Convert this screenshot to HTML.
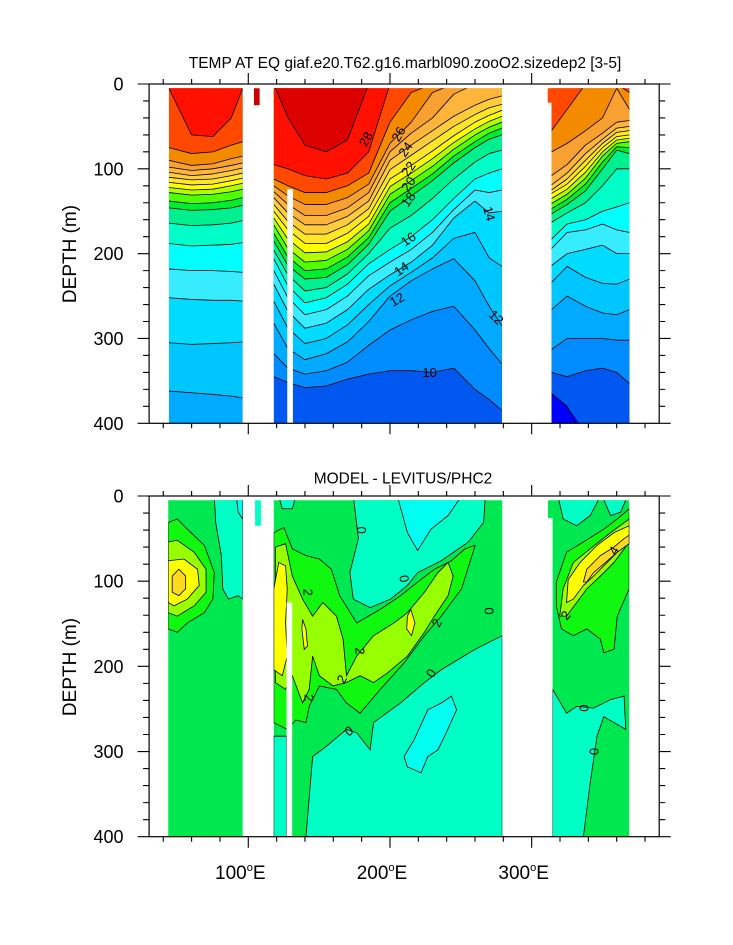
<!DOCTYPE html>
<html><head><meta charset="utf-8"><style>
html,body{margin:0;padding:0;background:#fff;}
svg{display:block;font-family:"Liberation Sans",Arial,sans-serif;}
</style></head><body>
<svg id="chart" width="733" height="945" viewBox="0 0 733 945" xmlns="http://www.w3.org/2000/svg">
<text x="405" y="68" font-size="15.5" text-anchor="middle">TEMP AT EQ giaf.e20.T62.g16.marbl090.zooO2.sizedep2 [3-5]</text>
<text x="403" y="483.5" font-size="15.5" text-anchor="middle">MODEL - LEVITUS/PHC2</text>
<text transform="translate(76,254) rotate(-90)" font-size="19" text-anchor="middle">DEPTH (m)</text>
<text transform="translate(76,667) rotate(-90)" font-size="19" text-anchor="middle">DEPTH (m)</text>
<g id="top"></g>
<g id="bot"></g>
</svg>
<script>
// ---------- data ----------
const levels = [29,28,27,26,25,24,23,22,21,20,19,18,17,16,15,14,13,12,11,10,9];
const levelColors = ["#dd0000","#ff1000","#ff4800","#f38a00","#f8a030","#ffb43c","#ffcc3c","#ffe628","#ffff00","#b0ff00","#50ff00","#00ee30","#00f090","#00ffc8","#00ffff","#38ecff","#00dcff","#00c6ff","#00aaff","#008cff","#0058f0"];
const coldColor = "#0000ff";
const leftLons = [44,60,75,88,96];
const leftDepths = [
 [0,5,75,90,98,104,110,116,122,128,138,146,164,188,218,252,305,362,420,420,420],
 [0,60,82,96,102,108,113,119,125,131,141,149,167,191,220,254,307,364,420,420,420],
 [0,62,80,94,100,106,112,118,124,130,140,148,166,190,220,255,306,366,420,420,420],
 [0,40,72,88,96,102,108,114,120,127,137,146,164,189,221,255,305,368,420,420,420],
 [0,5,68,85,93,99,105,111,117,124,134,143,161,187,222,256,304,370,420,420,420]];
const midLons = [118,128,140,155,170,185,200,215,230,245,260,270,279];
const midDepths = [
 [0,95,112,120,127,134,142,150,158,166,176,185,196,206,220,236,256,282,318,345,420],
 [40,100,120,132,142,152,162,172,183,194,204,214,225,238,252,268,288,312,335,352,420],
 [72,108,128,142,155,166,177,188,199,210,220,230,244,258,272,288,306,325,342,358,420],
 [80,112,128,142,155,166,177,188,198,208,218,228,240,252,266,282,300,318,338,356,420],
 [66,105,120,134,146,156,166,176,186,195,204,213,224,236,250,266,284,304,328,348,420],
 [0,80,105,118,128,138,147,156,165,173,181,189,200,212,226,242,260,280,308,342,420],
 [0,0,45,70,80,90,101,112,121,130,140,150,170,195,210,225,238,250,290,338,420],
 [0,0,10,45,58,72,84,96,105,114,123,132,155,180,195,210,222,232,278,338,420],
 [0,0,0,10,40,55,67,79,88,97,106,114,135,160,175,190,205,218,268,340,420],
 [0,0,0,0,12,38,50,61,69,77,85,93,112,135,148,158,182,206,262,335,420],
 [0,0,0,0,0,25,36,45,53,60,68,75,92,112,125,138,175,232,290,360,420],
 [0,0,0,0,0,18,28,37,44,51,58,65,82,105,128,152,205,262,312,372,420],
 [0,0,0,0,0,14,24,31,38,45,52,60,78,100,125,150,215,285,330,385,420]];
const rightLons = [314,325,338,350,360,369];
const rightDepths = [
 [0,0,55,80,108,119,125,129,135,141,147,153,163,183,194,214,234,266,313,340,365],
 [0,0,30,70,95,105,112,118,124,130,136,142,152,165,175,200,215,250,300,345,380],
 [0,0,0,55,72,82,90,97,104,111,118,126,140,160,172,195,228,262,300,338,420],
 [0,0,0,40,58,65,70,75,80,85,92,100,120,150,165,190,235,270,300,335,420],
 [0,0,0,5,45,52,57,62,66,70,74,78,100,145,172,200,236,272,302,340,420],
 [0,0,10,30,43,50,55,60,64,68,75,82,100,140,175,200,230,266,302,353,420]];
const topLabels = [["28",183,65,-60],["26",206,59,-60],["24",211,77,-55],["22",213,100,-55],["20",213,118,-55],["18",213,136,-55],["16",213,183,-35],["14",208,218,-35],["12",205,254,-30],["10",228,340,0],["14",270,153,75],["12",275,275,45]];
// bottom panel: difference regions (value class, [lon, depth] vertices)
const diffColors = {"-2":"#00fff0","-1":"#00ffc4","1":"#10f810","2":"#98ff00","3":"#ffff00","4":"#ffd820"};
const diffBase = "#00e850";
const diffRegions = [
 ["-1",[[76,0],[77,31],[81,70],[82,109],[86,121],[93,117],[96,121],[96,0]]],
 ["-2",[[91.5,0],[92.9,19],[96,27],[96,0]]],
 ["1",[[43.5,31],[49.9,27],[57,39],[69,58],[76,90],[75,121],[69,137],[57,149],[49.9,160],[43.5,156]]],
 ["2",[[43.5,54],[49.9,52],[61.8,66],[70.2,86],[70.2,113],[61.8,129],[49.9,141],[43.5,137]]],
 ["3",[[43.5,76],[54.6,74],[64.2,86],[65.4,105],[57,121],[47.5,129],[43.5,125]]],
 ["4",[[46.3,94],[51,86],[55.8,94],[55.8,109],[51,117],[46.3,113]]],
 ["-1",[[174.1,0],[177.7,50],[171.7,90],[174.1,121],[186,131],[200.4,121],[212.3,105],[219.5,90],[236.2,76],[255.3,54],[266.1,31],[267.3,0]]],
 ["-2",[[205.2,0],[212.3,43],[219.5,64],[229,39],[241,23],[250.5,0]]],
 ["-1",[[121.5,0],[124,15],[131.1,15],[133.5,0]]],
 ["-1",[[279.2,164],[260.1,180],[236.2,204],[224.3,219],[207.5,243],[188.4,266],[186,298],[176.5,278],[169.3,274],[155,294],[145.4,306],[140.7,400],[279.2,400]]],
 ["-1",[[118,282],[127,282],[127,400],[118,400]]],
 ["-2",[[209.9,306],[217.1,286],[226.7,251],[236.2,243],[243.4,235],[247,251],[238.6,282],[233.8,298],[226.7,306],[221.9,325],[212.3,318]]],
 ["1",[[118,43],[125.1,37],[131.1,62],[140.7,70],[150.2,74],[158.6,86],[164.5,117],[176.5,149],[193.2,133],[207.5,117],[219.5,101],[231.4,86],[243.4,76],[252.9,62],[260.1,58],[250.5,109],[236.2,141],[224.3,164],[209.9,196],[193.2,227],[178.9,255],[169.3,243],[162.2,227],[150.2,223],[143,247],[140.7,266],[133.5,263],[127.5,274],[118,266]]],
 ["2",[[119.1,60],[126.3,56],[131.1,94],[138.3,121],[145.4,141],[152.6,125],[162.2,141],[166.9,168],[169.3,211],[176.5,188],[188.4,164],[202.8,149],[212.3,137],[224.3,113],[233.8,90],[241,78],[244.6,94],[241,117],[231.4,141],[224.3,160],[212.3,188],[198,208],[188.4,219],[178.9,211],[169.3,219],[159.8,223],[150.2,211],[145.4,188],[143,227],[138.3,243],[131.1,211],[126.3,227],[119.1,219]]],
 ["3",[[118,109],[121.5,78],[126.3,82],[127.5,109],[126.3,149],[127.5,188],[124,211],[118,204]]],
 ["3",[[138.3,145],[140.7,156],[141.8,176],[139.5,180],[137.8,156]]],
 ["3",[[212.3,141],[214.7,133],[217.6,149],[215.2,164],[211.8,156]]],
 ["-1",[[318.6,0],[322.2,27],[331.8,35],[341.3,23],[348.5,0]]],
 ["-1",[[349.7,0],[355.7,23],[362.8,19],[367.6,0]]],
 ["-1",[[314.8,227],[324.6,255],[331.8,247],[343.7,249],[355.7,239],[365.2,235],[366.4,274],[358.1,266],[350.9,259],[346.1,282],[341.3,337],[336.5,400],[314.8,400]]],
 ["1",[[317.4,101],[324.6,66],[336.5,54],[350.9,39],[360.4,27],[368.8,15],[368.8,109],[360.4,141],[358.1,180],[350.9,184],[348.5,168],[338.9,156],[329.4,164],[321,156],[317.4,129]]],
 ["2",[[319.8,141],[322.2,109],[329.4,78],[341.3,62],[355.7,43],[368.8,27],[368.8,54],[358.1,78],[348.5,94],[338.9,109],[331.8,125],[324.6,141]]],
 ["3",[[324.6,125],[325.8,98],[334.2,78],[346.1,58],[358.1,43],[368.8,35],[368.8,54],[360.4,66],[350.9,82],[343.7,94],[336.5,105],[329.4,121]]],
 ["4",[[336.5,101],[338.9,86],[348.5,70],[358.1,60],[365.2,50],[368.8,46],[368.8,56],[360.4,66],[352.1,78],[343.7,90],[338.9,101]]]];
const botLabels = [["0",180,40,90],["0",210,97,80],["2",142,113,90],["2",233,149,-60],["2",179,182,90],["2",166,215,-60],["2",143,237,90],["0",229,208,-60],["0",171,276,-30],["0",270,135,90],["2",324,140,-50],["4",358,64,-60],["0",337,249,90],["0",344,300,90]];
const yTicks = [0,100,200,300,400];
const xTicks = [100,200,300];
// ---------- axes ----------
const NS="http://www.w3.org/2000/svg";
const X0=149.1, X1=659.2, LON0=30, LON1=390;
const X = lon => X0+(lon-LON0)*(X1-X0)/(LON1-LON0);
const panels = {top:{y0:84,y1:423.3}, bot:{y0:496,y1:836.7}};
const Yf = p => d => panels[p].y0+d*(panels[p].y1-panels[p].y0)/400;
function mk(tag, attrs, parent){const e=document.createElementNS(NS,tag);for(const k in attrs)e.setAttribute(k,attrs[k]);parent.appendChild(e);return e;}
const svg=document.getElementById('chart');
const defs=mk('defs',{},svg);
function segClip(id,l0,l1,Y){const c=mk('clipPath',{id:id},defs);mk('rect',{x:X(l0),y:Y(5),width:X(l1)-X(l0),height:Y(400)-Y(5)},c);}

// ---------- top panel ----------
const gT=document.getElementById('top');
const Yt=Yf('top');
function drawSeg(lons,depths,id){
  segClip(id,lons[0],lons[lons.length-1],Yt);
  const g=mk('g',{'clip-path':'url(#'+id+')'},gT);
  
  
  const r=mk('rect',{x:X(lons[0]),y:Yt(0),width:X(lons[lons.length-1])-X(lons[0]),height:Yt(400)-Yt(0),fill:coldColor},g);
  
  
  for(let i=levels.length-1;i>=0;i--){
    let pts=[[X(lons[0]),Yt(0)],[X(lons[lons.length-1]),Yt(0)]];
    for(let j=lons.length-1;j>=0;j--) pts.push([X(lons[j]),Yt(Math.min(depths[j][i],410))]);
    const p=mk('polygon',{points:pts.map(q=>q.join(',')).join(' '),fill:levelColors[i]},g);
    
    
  }
  for(let i=0;i<levels.length;i++){
    let d='';
    for(let j=0;j<lons.length-1;j++){
      const a=depths[j][i], b=depths[j+1][i];
      if((a<=5&&b<=5)||(a>=400&&b>=400)) continue;
      d+='M'+X(lons[j])+','+Yt(a)+'L'+X(lons[j+1])+','+Yt(b);
    }
    if(d){const l=mk('path',{d:d,stroke:'#000','stroke-width':0.8,fill:'none'},g);
      
      }
  }
}
drawSeg(leftLons,leftDepths,'top-left-segment');
drawSeg(midLons,midDepths,'top-middle-segment');
drawSeg(rightLons,rightDepths,'top-right-segment');
let s=mk('rect',{x:X(104),y:Yt(5),width:X(108)-X(104),height:Yt(25)-Yt(5),fill:'#cc0000'},gT);


s=mk('rect',{x:X(311.3),y:Yt(5),width:X(314.5)-X(311.3),height:Yt(22)-Yt(5),fill:'#ff4800'},gT);


s=mk('rect',{x:X(127.5),y:Yt(124),width:X(131.5)-X(127.5),height:Yt(400)-Yt(124),fill:'#fff'},gT);


topLabels.forEach(t=>{
  const e=mk('text',{x:X(t[1]),y:Yt(t[2]),'font-size':13,'text-anchor':'middle','dominant-baseline':'central',transform:'rotate('+t[3]+' '+X(t[1])+' '+Yt(t[2])+')'},gT);
  e.textContent=t[0];
  
  
});

// ---------- bottom panel ----------
const gB=document.getElementById('bot');
const Yb=Yf('bot');
[[43.5,96,'bot-left'],[118,279.2,'bot-mid'],[314.8,368.8,'bot-right']].forEach(sg=>segClip(sg[2]+'-clip',sg[0],sg[1],Yb));
const gBB=mk('g',{},gB);
[[43.5,96,'bot-left'],[118,279.2,'bot-mid'],[314.8,368.8,'bot-right']].forEach(sg=>{
  const r=mk('rect',{x:X(sg[0]),y:Yb(5),width:X(sg[1])-X(sg[0]),height:Yb(400)-Yb(5),fill:diffBase},gBB);
  
  
});
const gClip=mk('g',{},gB);
diffRegions.forEach(rg=>{
  const lon0=rg[1][0][0];
  const cid= lon0<100?'bot-left-clip':(lon0<300?'bot-mid-clip':'bot-right-clip');
  const p=mk('polygon',{points:rg[1].map(q=>X(q[0])+','+Yb(q[1])).join(' '),fill:diffColors[rg[0]],stroke:'#000','stroke-width':0.8,'clip-path':'url(#'+cid+')'},gClip);
  
  
});
s=mk('rect',{x:X(104.8),y:Yb(5),width:X(108.9)-X(104.8),height:Yb(35)-Yb(5),fill:'#00ffc4'},gB);


s=mk('rect',{x:X(311.5),y:Yb(5),width:X(315)-X(311.5),height:Yb(26)-Yb(5),fill:diffBase},gB);


s=mk('rect',{x:X(127),y:Yb(125),width:X(131)-X(127),height:Yb(400)-Yb(125),fill:'#fff'},gB);


botLabels.forEach(t=>{
  const e=mk('text',{x:X(t[1]),y:Yb(t[2]),'font-size':13,'text-anchor':'middle','dominant-baseline':'central',transform:'rotate('+t[3]+' '+X(t[1])+' '+Yb(t[2])+')'},gB);
  e.textContent=t[0];
  
  
});

// ---------- frames & ticks ----------
['top','bot'].forEach(p=>{
  const Y=Yf(p), g=p==='top'?gT:gB;
  const fr=mk('rect',{x:X0,y:Y(0),width:X1-X0,height:Y(400)-Y(0),fill:'none',stroke:'#000','stroke-width':1.2},g);
  
  
  let d='';
  for(let dep=0;dep<=400;dep+=20){
    const L=dep%100===0?11.5:6;
    d+='M'+(X0-L)+','+Y(dep)+'H'+X0+'M'+X1+','+Y(dep)+'H'+(X1+L);
  }
  for(let lon=40;lon<=380;lon+=20){
    const L=lon%100===0?11:5;
    d+='M'+X(lon)+','+(Y(0)-L)+'V'+Y(0)+'M'+X(lon)+','+Y(400)+'V'+(Y(400)+L);
  }
  const tk=mk('path',{d:d,stroke:'#000','stroke-width':1.1,fill:'none'},g);
  
  
  yTicks.forEach(v=>{
    const t=mk('text',{x:123.5,y:Y(v)+6.5,'font-size':18,'text-anchor':'end'},g);
    t.textContent=v;
    
    
  });
});
xTicks.forEach(v=>{
  const t=mk('text',{x:X(v)-8,y:879,'font-size':19,'text-anchor':'middle'},gB);
  
  
  t.appendChild(document.createTextNode(String(v)));
  const o=mk('tspan',{'font-size':11,dy:-8},t);o.textContent='o';
  const e=mk('tspan',{dy:8},t);e.textContent='E';
});
</script>
</body></html>
